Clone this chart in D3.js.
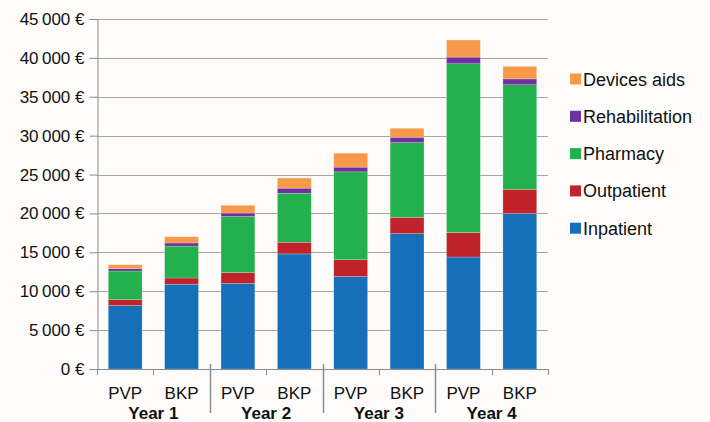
<!DOCTYPE html>
<html><head><meta charset="utf-8">
<script src="https://cdn.jsdelivr.net/npm/d3@7"></script>
<style>
html,body{margin:0;padding:0;background:#fdfcfb;}
svg{display:block;font-family:"Liberation Sans",Arial,sans-serif;}
</style></head>
<body><svg id="chart" width="710" height="422"></svg>
<script>
const bars = ["Y1 PVP","Y1 BKP","Y2 PVP","Y2 BKP","Y3 PVP","Y3 BKP","Y4 PVP","Y4 BKP"];
const barLabels = ["PVP","BKP","PVP","BKP","PVP","BKP","PVP","BKP"];
const years = ["Year 1","Year 2","Year 3","Year 4"];
const seriesNames = ["Inpatient","Outpatient","Pharmacy","Rehabilitation","Devices aids"];
const inpatient      = [8150, 10900, 11000, 14800, 11900, 17400, 14400, 20000];
const outpatient     = [800,  800,   1400,  1500,  2150,  2100,  3150,  3100];
const pharmacy       = [3650, 4100,  7200,  6300,  11300, 9600,  21700, 13450];
const rehabilitation = [300,  400,   450,   650,   600,   700,   850,   750];
const devicesAids    = [500,  800,   1000,  1300,  1800,  1150,  2200,  1600];
const yTicks = [0,5000,10000,15000,20000,25000,30000,35000,40000,45000];
const colors = ["#1570b9","#c1232b","#22b14c","#7031a0","#f8994a"];

(function(){
const seriesValues = [inpatient, outpatient, pharmacy, rehabilitation, devicesAids];
const table = bars.map((b,i)=>{
  const o = {bar:b};
  seriesNames.forEach((s,j)=>o[s]=seriesValues[j][i]);
  return o;
});
const stacked = d3.stack().keys(seriesNames)(table);

const svg = d3.select("#chart");
const pLeft = 97, pRight = 548, pTop = 19, pBottom = 369;
const x = d3.scaleBand().domain(bars).range([pLeft,pRight]).paddingInner(0.4).paddingOuter(0.2);
const y = d3.scaleLinear().domain([0,45000]).range([pBottom,pTop]);
const color = d3.scaleOrdinal().domain(seriesNames).range(colors);

// gridlines
svg.append("g").selectAll("line").data(yTicks.filter(d=>d>0)).join("line")
  .attr("x1",pLeft).attr("x2",pRight)
  .attr("y1",d=>Math.round(y(d))+0.5).attr("y2",d=>Math.round(y(d))+0.5)
  .attr("stroke","#a6a6a6").attr("stroke-width",1.2);

// y axis
const fmt = d => d===0 ? "0\u00a0€" : d3.format(",")(d).replace(/,/g,"\u202f")+"\u00a0€";
const yAxis = svg.append("g").attr("transform",`translate(${pLeft+0.5},0)`)
  .call(d3.axisLeft(y).tickValues(yTicks).tickFormat(fmt).tickSize(8).tickPadding(5));
yAxis.select(".domain").attr("stroke","#8c8c8c");
yAxis.selectAll(".tick line").attr("stroke","#8c8c8c");
yAxis.selectAll("text").attr("font-size","17px").attr("fill","#111")
  .attr("font-family","Liberation Sans, Arial, sans-serif");

// bars
svg.append("g").selectAll("g").data(stacked).join("g")
  .attr("fill",d=>color(d.key))
  .selectAll("rect").data(d=>d).join("rect")
  .attr("x",d=>x(d.data.bar))
  .attr("width",x.bandwidth())
  .attr("y",d=>y(d[1]))
  .attr("height",d=>y(d[0])-y(d[1]))
  .attr("stroke","rgba(255,255,255,0.35)").attr("stroke-width",0.6);

// x axis
const xg = svg.append("g");
xg.append("line").attr("x1",pLeft).attr("x2",pRight).attr("y1",pBottom+0.5).attr("y2",pBottom+0.5)
  .attr("stroke","#8c8c8c");
const step = x.step();
const bounds = d3.range(bars.length+1);
const isGroup = k => k%2===0 && k>0 && k<bars.length;
xg.selectAll("line.tk").data(bounds).join("line").attr("class","tk")
  .attr("x1",k=>Math.round(pLeft+step*k)+0.5).attr("x2",k=>Math.round(pLeft+step*k)+0.5)
  .attr("y1",k=>isGroup(k)?364:pBottom).attr("y2",k=>isGroup(k)?413:375)
  .attr("stroke","#8c8c8c").attr("stroke-width",k=>isGroup(k)?1.5:1);
xg.selectAll("text.bl").data(bars).join("text").attr("class","bl")
  .attr("x",d=>x(d)+x.bandwidth()/2).attr("y",399)
  .attr("text-anchor","middle").attr("font-size","17px").attr("fill","#111")
  .text((d,i)=>barLabels[i]);
xg.selectAll("text.yl").data(years).join("text").attr("class","yl")
  .attr("x",(d,i)=>pLeft+step*(2*i+1)).attr("y",419)
  .attr("text-anchor","middle").attr("font-size","17px").attr("font-weight","bold").attr("fill","#111")
  .text(d=>d);

// legend
const legendOrder = seriesNames.slice().reverse();
const lg = svg.append("g").selectAll("g").data(legendOrder).join("g")
  .attr("transform",(d,i)=>`translate(570,${79+i*37.3})`);
lg.append("rect").attr("x",0).attr("y",-5.5).attr("width",11).attr("height",11).attr("fill",d=>color(d));
lg.append("text").attr("x",13).attr("y",6.5).attr("font-size","18px").attr("fill","#111").text(d=>d);
})();
</script></body></html>
